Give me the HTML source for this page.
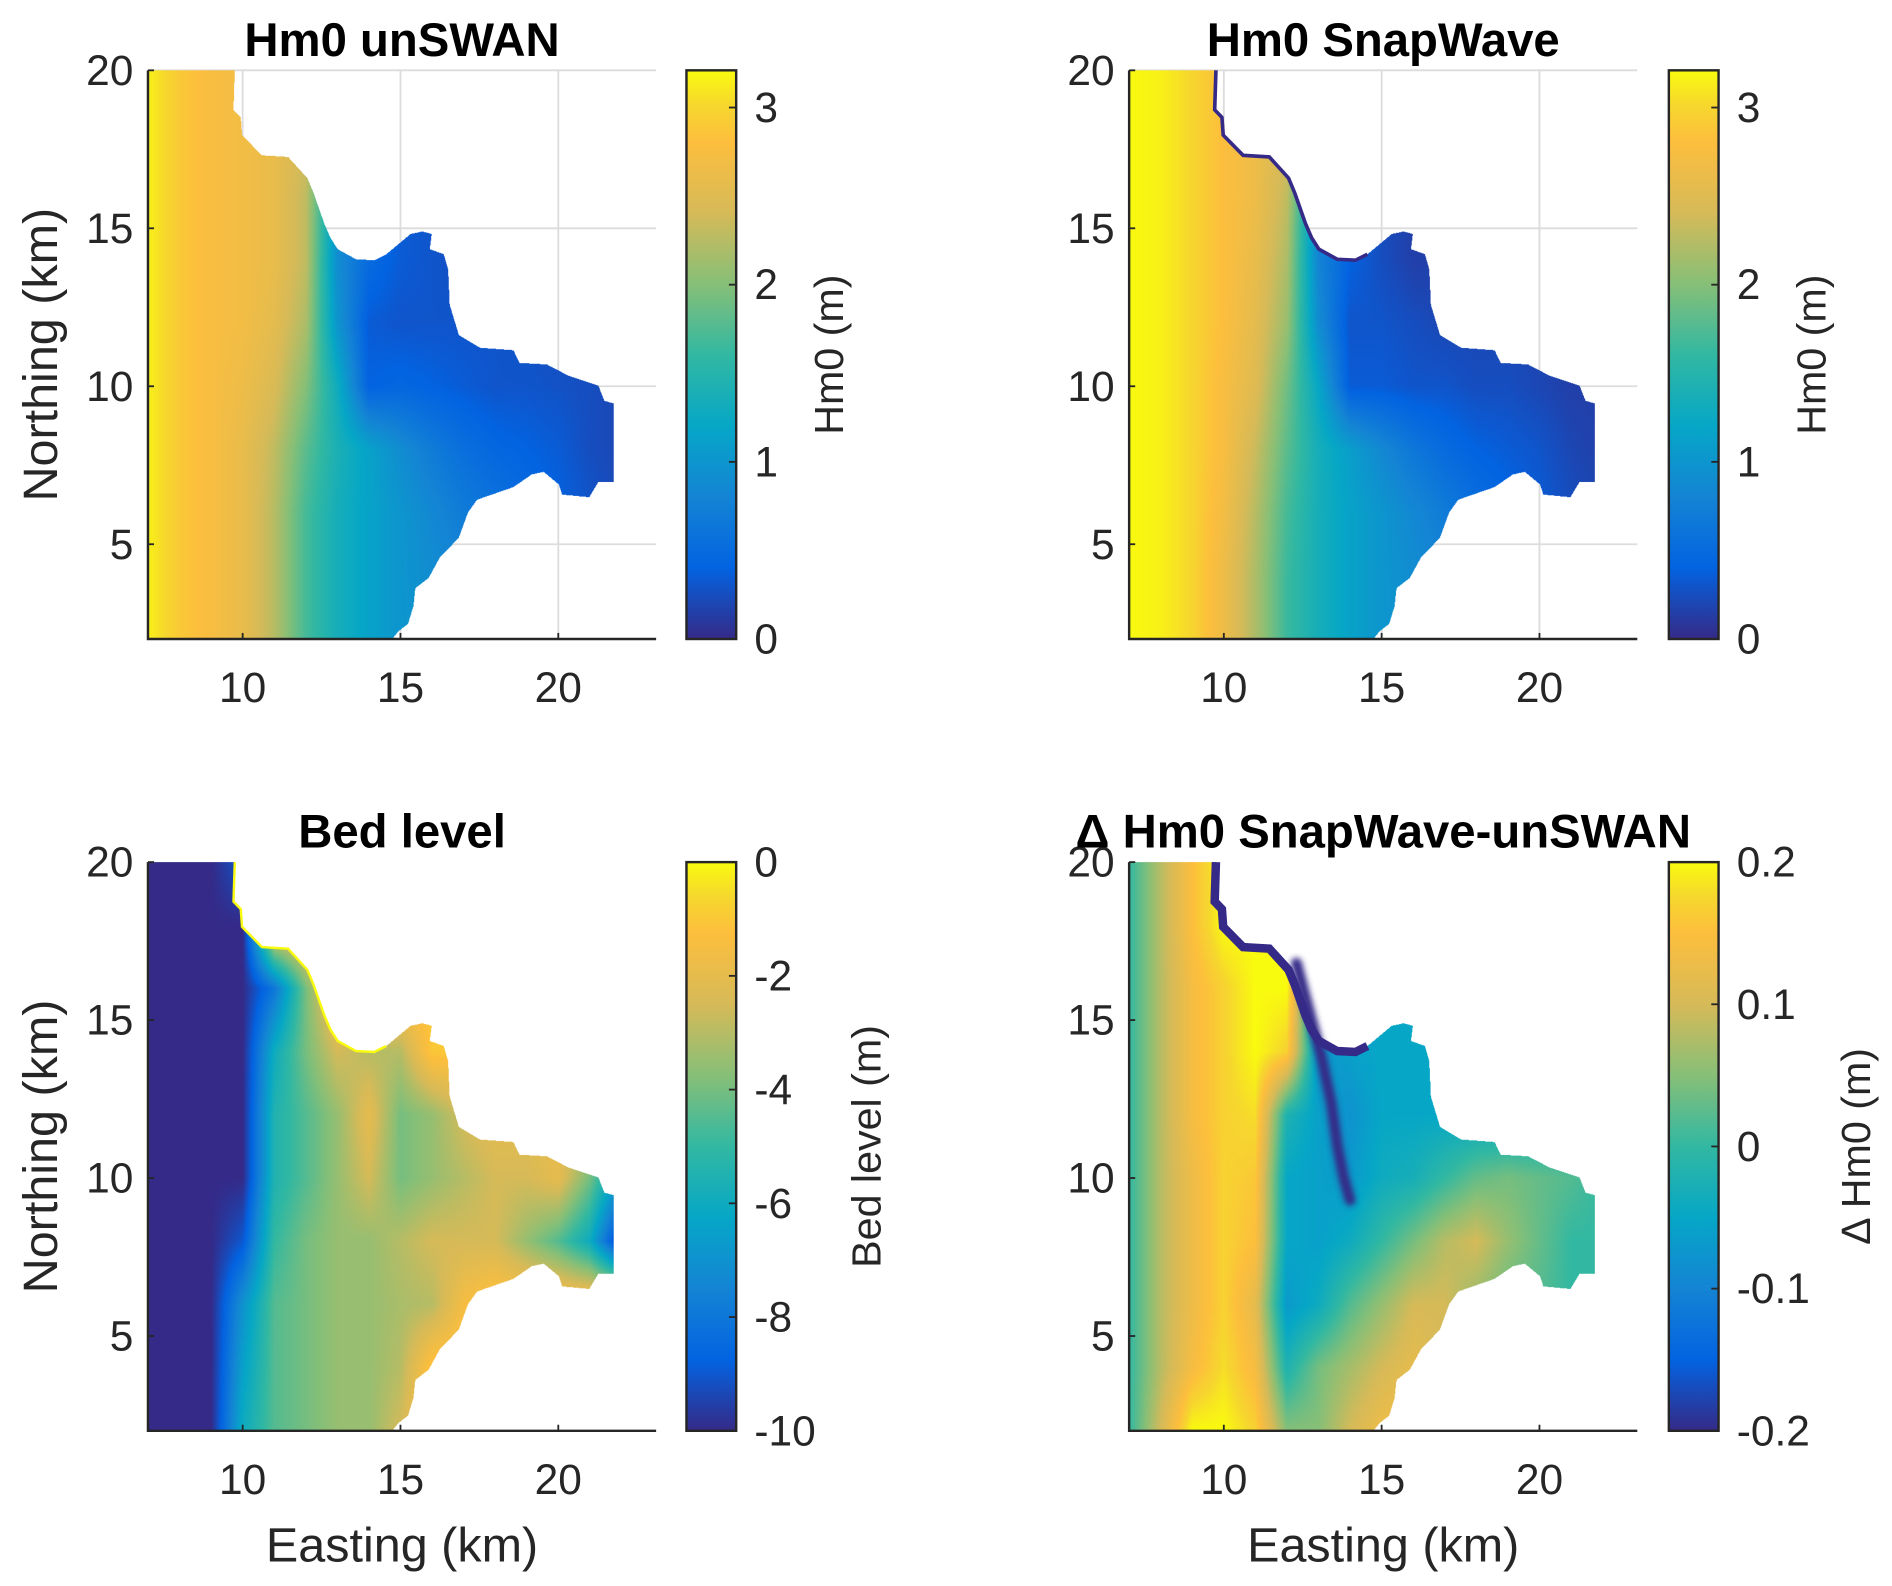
<!DOCTYPE html>
<html><head><meta charset="utf-8"><style>
html,body{margin:0;padding:0;background:#fff;}
svg{display:block;font-family:"Liberation Sans",Arial,sans-serif;}
</style></head><body>
<svg id="fig" width="1892" height="1586" viewBox="0 0 1560 1308" preserveAspectRatio="none" xmlns="http://www.w3.org/2000/svg">
<defs>
<linearGradient id="parula" x1="0" y1="1" x2="0" y2="0">
<stop offset="0" stop-color="rgb(53,42,135)"/>
<stop offset="0.125" stop-color="rgb(3,99,225)"/>
<stop offset="0.25" stop-color="rgb(20,132,212)"/>
<stop offset="0.375" stop-color="rgb(6,167,198)"/>
<stop offset="0.5" stop-color="rgb(50,184,162)"/>
<stop offset="0.625" stop-color="rgb(135,191,119)"/>
<stop offset="0.75" stop-color="rgb(214,186,88)"/>
<stop offset="0.875" stop-color="rgb(253,190,61)"/>
<stop offset="0.9375" stop-color="rgb(246,215,46)"/>
<stop offset="1" stop-color="rgb(249,251,14)"/>
</linearGradient>
<filter id="soft" x="-20%" y="-20%" width="140%" height="140%"><feGaussianBlur stdDeviation="2.5"/></filter>
</defs>
<g id="layer"></g>
</svg>
<script>
// ---- data ----
const xNodes=[7,8,9,10,11,12,13,14,15,16,17,18,19,20,21,22];
const yNodes=[20,18,16,14,12,10,8,6,4,2];
const hsSwan=[
[3.15,2.9,2.75,2.7,2.6,2.5,2.3,2,2,2,2,2,2,2,2,2],
[3.15,2.9,2.75,2.7,2.6,2.4,1.5,1,1,1,1,1,1,1,1,1],
[3.15,2.9,2.75,2.7,2.6,2.3,1.0,0.5,0.35,0.3,0.3,0.3,0.3,0.3,0.3,0.3],
[3.15,2.9,2.75,2.7,2.6,2.3,0.9,0.5,0.35,0.3,0.25,0.25,0.25,0.25,0.25,0.25],
[3.15,2.9,2.75,2.7,2.55,2.2,1.0,0.35,0.3,0.3,0.3,0.3,0.28,0.25,0.25,0.25],
[3.15,2.9,2.75,2.65,2.45,2.0,1.3,0.4,0.45,0.4,0.35,0.3,0.3,0.28,0.25,0.2],
[3.15,2.9,2.75,2.6,2.3,1.8,1.4,1.15,0.9,0.7,0.55,0.45,0.4,0.35,0.25,0.2],
[3.15,2.9,2.75,2.6,2.25,1.7,1.35,1.15,1.0,0.85,0.7,0.6,0.5,0.4,0.3,0.2],
[3.15,2.9,2.75,2.6,2.25,1.7,1.35,1.15,1.0,0.9,0.8,0.7,0.6,0.5,0.4,0.3],
[3.15,2.9,2.75,2.6,2.25,1.7,1.35,1.15,1.0,0.95,0.9,0.8,0.7,0.6,0.5,0.4]];
const hsSnap=[
[3.2,3.15,3.0,2.8,2.65,2.5,2.3,2,2,2,2,2,2,2,2,2],
[3.2,3.15,3.0,2.8,2.65,2.4,1.5,1,1,1,1,1,1,1,1,1],
[3.2,3.15,3.0,2.8,2.65,2.3,0.8,0.4,0.25,0.15,0.15,0.15,0.15,0.15,0.15,0.15],
[3.2,3.15,3.0,2.8,2.6,2.2,0.8,0.4,0.25,0.15,0.15,0.15,0.15,0.15,0.15,0.15],
[3.2,3.15,3.0,2.8,2.55,2.1,0.9,0.3,0.3,0.25,0.2,0.2,0.2,0.2,0.15,0.15],
[3.2,3.15,3.0,2.75,2.5,1.9,1.2,0.35,0.35,0.3,0.3,0.25,0.25,0.2,0.15,0.15],
[3.2,3.15,3.0,2.75,2.35,1.8,1.35,1.1,0.85,0.65,0.5,0.4,0.35,0.3,0.2,0.15],
[3.2,3.15,3.0,2.7,2.25,1.7,1.35,1.15,1.0,0.85,0.7,0.55,0.45,0.35,0.25,0.2],
[3.2,3.15,3.0,2.65,2.2,1.65,1.35,1.15,1.0,0.9,0.8,0.7,0.6,0.5,0.4,0.3],
[3.2,3.15,3.0,2.65,2.2,1.65,1.35,1.15,1.0,0.95,0.9,0.8,0.7,0.6,0.5,0.4]];
const bedLevel=[
[-10,-10,-10,-9,-1,-1,-1,-1,-1,-1,-1,-1,-1,-1,-1,-1],
[-10,-10,-10,-10,-1,-1,-1,-1,-1,-1,-1,-1,-1,-1,-1,-1],
[-10,-10,-10,-10,-8,-4,-1,-1,-1,-1,-1,-1,-1,-1,-1,-1],
[-10,-10,-10,-10,-6,-4,-2.5,-3,-3,-1,-1,-1,-1,-1,-1,-1],
[-10,-10,-10,-10,-5.5,-4.5,-3.5,-2,-4,-3.5,-2.5,-2,-2,-2,-2,-2],
[-10,-10,-10,-10,-5.5,-4.5,-3.5,-2.5,-4,-3.5,-3,-2.5,-2.5,-2,-4,-7],
[-10,-10,-10,-9,-5,-4,-3.5,-3.5,-3,-2.5,-2.5,-2.5,-3.5,-4.5,-6,-10],
[-10,-10,-10,-7,-4.5,-4,-3.5,-3.5,-3.2,-3,-1.5,-1,-1,-1,-1,-1],
[-10,-10,-10,-6.5,-4.5,-4,-3.5,-3.5,-3,-1,-1,-1,-1,-1,-1,-1],
[-10,-10,-10,-6,-4.5,-4,-3.5,-3.5,-2.5,-1,-1,-1,-1,-1,-1,-1]];
const deltaHs=[
[0.0,0.08,0.15,0.2,0.2,0.2,0.2,0.2,0.2,0.2,0.2,0.2,0.2,0.2,0.2,0.2],
[0.0,0.08,0.15,0.2,0.2,0.2,0.2,0.2,0.2,0.2,0.2,0.2,0.2,0.2,0.2,0.2],
[0.0,0.08,0.14,0.17,0.2,0.2,-0.1,-0.1,-0.05,-0.05,-0.05,-0.05,-0.05,-0.05,-0.05,-0.05],
[0.0,0.08,0.14,0.17,0.2,0.17,-0.08,-0.06,-0.05,-0.05,-0.05,-0.05,-0.05,-0.05,-0.05,-0.05],
[0.0,0.08,0.14,0.17,0.18,-0.02,-0.06,-0.08,-0.05,-0.05,-0.05,-0.05,-0.05,-0.05,-0.05,-0.05],
[0.0,0.08,0.13,0.17,0.16,-0.05,-0.06,-0.07,-0.04,-0.03,0.0,0.03,0.04,0.03,0.02,0.0],
[0.0,0.08,0.13,0.17,0.15,-0.05,-0.06,-0.04,0.0,0.04,0.08,0.1,0.06,0.03,0.0,0.0],
[0.0,0.08,0.13,0.17,0.12,-0.07,-0.04,0.02,0.06,0.1,0.1,0.06,0.03,0.02,0.0,0.0],
[0.0,0.08,0.14,0.18,0.14,-0.02,0.04,0.07,0.1,0.12,0.1,0.06,0.03,0.02,0.0,0.0],
[0.0,0.1,0.2,0.2,0.17,0.05,0.05,0.1,0.13,0.14,0.1,0.05,0.03,0.02,0.0,0.0]];
const ridgeX=[12.3,12.7,13.1,13.4,13.6,13.8,14.0];
const ridgeY=[16.8,15.3,13.8,12.4,11.0,10.0,9.3];
const coastX=[9.75,9.71,9.94,9.98,10.61,11.44,12.05,12.25,12.59,12.78,13.01,13.59,14.17,14.55,15.32,15.70,15.99,15.93,16.37,16.51,16.56,16.85,17.52,18.58,18.77,19.64,20.31,21.27,21.46,21.75,21.75,21.27,20.98,20.12,20.02,19.54,19.16,18.58,17.43,17.14,16.85,16.47,16.24,15.89,15.47,15.41,15.24,14.93,14.74];
const coastY=[20,18.75,18.51,17.95,17.31,17.26,16.59,16.11,15.14,14.70,14.34,14.02,13.99,14.18,14.82,14.90,14.82,14.34,14.18,13.70,12.58,11.62,11.22,11.14,10.74,10.69,10.34,10.02,9.54,9.46,6.97,6.97,6.49,6.57,6.89,7.29,7.21,6.81,6.41,6.01,5.21,4.81,4.57,3.93,3.61,3.04,2.48,2.24,2.0];
const xTicks=[10,15,20];
const yTicks=[5,10,15,20];
const cbTicksHs=[0,1,2,3];
const cbTicksBed=[0,-2,-4,-6,-8,-10];
const cbTicksDelta=[0.2,0.1,0,-0.1,-0.2];

// ---- rendering ----
const NS='http://www.w3.org/2000/svg';
const layer=document.getElementById('layer');
const cpos=[0,0.125,0.25,0.375,0.5,0.625,0.75,0.875,0.9375,1];
const cmap=[[53,42,135],[3,99,225],[20,132,212],[6,167,198],[50,184,162],[135,191,119],[214,186,88],[253,190,61],[246,215,46],[249,251,14]];
function col(t){t=Math.max(0,Math.min(1,t));let i=0;while(i<cpos.length-2&&t>cpos[i+1])i++;const r=(t-cpos[i])/(cpos[i+1]-cpos[i]);const a=cmap[i],b=cmap[i+1];return [a[0]+(b[0]-a[0])*r,a[1]+(b[1]-a[1])*r,a[2]+(b[2]-a[2])*r];}
function el(tag,attrs,parent){const e=document.createElementNS(NS,tag);for(const k in attrs)e.setAttribute(k,attrs[k]);(parent||layer).appendChild(e);return e;}
const polyFull=[[7,20]].concat(coastX.map((x,i)=>[x,coastY[i]])).concat([[7,2]]);
function inside(x,y){let c=false;for(let i=0,j=polyFull.length-1;i<polyFull.length;j=i++){const a=polyFull[i],b=polyFull[j];if((a[1]>y)!=(b[1]>y)&&x<(b[0]-a[0])*(y-a[1])/(b[1]-a[1])+a[0])c=!c;}return c;}
function sample(grid,x,y){
 let fx=Math.max(0,Math.min(xNodes.length-1.0001,x-xNodes[0]));
 let fy=Math.max(0,Math.min(yNodes.length-1.0001,(yNodes[0]-y)/2));
 const i=Math.floor(fx),j=Math.floor(fy),rx=fx-i,ry=fy-j;
 const a=grid[j][i],b=grid[j][i+1],c=grid[j+1][i],d=grid[j+1][i+1];
 return (a*(1-rx)+b*rx)*(1-ry)+(c*(1-rx)+d*rx)*ry;}

const xMin=7,xMax=23.1,yMin=2,yMax=20,W=419,H=469;
const panels=[
 {name:'hm0-unswan',title:'Hm0 unSWAN',L:122,T:58,cbL:566,grid:hsSwan,vmin:0,vmax:3.21,ticks:cbTicksHs,cbTitle:'Hm0 (m)',cbTx:683,xlab:false,ylab:true,gridlines:true,edge:null,ew:0,ridge:false},
 {name:'hm0-snapwave',title:'Hm0 SnapWave',L:931,T:58,cbL:1376,grid:hsSnap,vmin:0,vmax:3.21,ticks:cbTicksHs,cbTitle:'Hm0 (m)',cbTx:1493,xlab:false,ylab:false,gridlines:true,edge:'rgb(53,42,135)',ew:3,ridge:false},
 {name:'bed-level',title:'Bed level',L:122,T:711,cbL:566,grid:bedLevel,vmin:-10,vmax:0,ticks:cbTicksBed,cbTitle:'Bed level (m)',cbTx:714,xlab:true,ylab:true,gridlines:false,edge:'rgb(249,251,14)',ew:2,ridge:false},
 {name:'delta-hm0',title:'\u0394 Hm0 SnapWave-unSWAN',L:931,T:711,cbL:1376,grid:deltaHs,vmin:-0.2,vmax:0.2,ticks:cbTicksDelta,cbTitle:'\u0394 Hm0 (m)',cbTx:1530,xlab:true,ylab:false,gridlines:false,edge:'rgb(53,42,135)',ew:7,ridge:true}];

panels.forEach(p=>{
 const g=el('g',{});
 
 
 const X=x=>p.L+(x-xMin)/(xMax-xMin)*W, Y=y=>p.T+(yMax-y)/(yMax-yMin)*H;
 if(p.gridlines){
  xTicks.forEach(t=>{const l=el('line',{x1:X(t),x2:X(t),y1:p.T,y2:p.T+H,stroke:'#dcdcdc','stroke-width':1.5},g);});
  yTicks.forEach(t=>{const l=el('line',{x1:p.L,x2:p.L+W,y1:Y(t),y2:Y(t),stroke:'#dcdcdc','stroke-width':1.5},g);});
 }
 const fo=el('foreignObject',{x:p.L,y:p.T,width:W,height:H},g);
 
 
 const cv=document.createElement('canvas');cv.width=W*2;cv.height=H*2;cv.style.width=W+'px';cv.style.height=H+'px';cv.style.display='block';
 fo.appendChild(cv);
 const ctx=cv.getContext('2d');const img=ctx.createImageData(W*2,H*2);
 for(let py=0;py<H*2;py++){const y=yMax-(py+0.5)/(H*2)*(yMax-yMin);
  for(let px=0;px<W*2;px++){const x=xMin+(px+0.5)/(W*2)*(xMax-xMin);
   if(!inside(x,y))continue;const v=sample(p.grid,x,y);const c=col((v-p.vmin)/(p.vmax-p.vmin));const k=(py*W*2+px)*4;
   img.data[k]=c[0];img.data[k+1]=c[1];img.data[k+2]=c[2];img.data[k+3]=255;}}
 ctx.putImageData(img,0,0);
 if(p.ridge){const pts=ridgeX.map((x,i)=>X(x)+','+Y(ridgeY[i])).join(' ');
  const r=el('polyline',{points:pts,fill:'none',stroke:'rgb(53,42,135)','stroke-width':9,'stroke-linecap':'round','stroke-linejoin':'round',filter:'url(#soft)'},g);
  }
 if(p.edge){const pts=coastX.slice(0,14).map((x,i)=>X(x)+','+Y(coastY[i])).join(' ');const e=el('polyline',{points:pts,fill:'none',stroke:p.edge,'stroke-width':p.ew},g);}
 const ax=el('path',{d:`M${p.L},${p.T} V${p.T+H} H${p.L+W}`,fill:'none',stroke:'#262626','stroke-width':2},g);
 
 xTicks.forEach(t=>{el('line',{x1:X(t),x2:X(t),y1:p.T+H,y2:p.T+H-5,stroke:'#262626','stroke-width':1.5},g);
  const tx=el('text',{x:X(t),y:p.T+H+52,'font-size':35,'text-anchor':'middle',fill:'#262626'},g);tx.textContent=t;
  });
 yTicks.forEach(t=>{el('line',{x1:p.L,x2:p.L+5,y1:Y(t),y2:Y(t),stroke:'#262626','stroke-width':1.5},g);
  const tx=el('text',{x:p.L-12,y:Y(t)+12,'font-size':35,'text-anchor':'end',fill:'#262626'},g);tx.textContent=t;
  });
 const ti=el('text',{x:p.L+W/2,y:p.T-12,'font-size':39,'font-weight':'bold','text-anchor':'middle',fill:'#000'},g);ti.textContent=p.title;
 
 if(p.ylab){const yl=el('text',{x:0,y:0,'font-size':40,'text-anchor':'middle',fill:'#262626',transform:`translate(47,${p.T+H/2}) rotate(-90)`},g);yl.textContent='Northing (km)';
  }
 if(p.xlab){const xl=el('text',{x:p.L+W/2,y:p.T+H+108,'font-size':40,'text-anchor':'middle',fill:'#262626'},g);xl.textContent='Easting (km)';
  }
 const cb=el('rect',{x:p.cbL,y:p.T,width:41,height:H,fill:'url(#parula)',stroke:'#262626','stroke-width':2},g);
 
 const CY=v=>p.T+H-(v-p.vmin)/(p.vmax-p.vmin)*H;
 p.ticks.forEach(t=>{const yy=CY(t);el('line',{x1:p.cbL+41,x2:p.cbL+35,y1:yy,y2:yy,stroke:'#262626','stroke-width':1.5},g);
  const tx=el('text',{x:p.cbL+56,y:yy+12,'font-size':35,fill:'#262626'},g);tx.textContent=String(t);
  });
 const ct=el('text',{x:0,y:0,'font-size':34,'text-anchor':'middle',fill:'#262626',transform:`translate(${p.cbTx+12},${p.T+H/2}) rotate(-90)`},g);ct.textContent=p.cbTitle;
 
});
</script>
</body></html>
